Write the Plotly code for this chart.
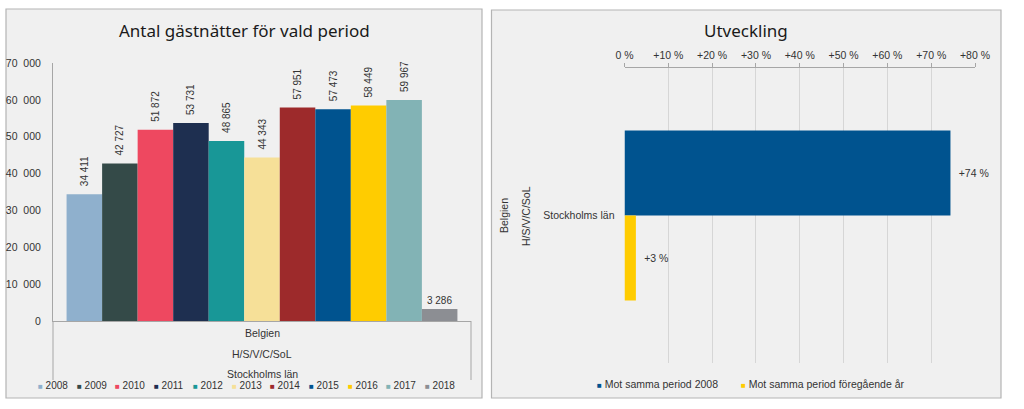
import plotly.graph_objects as go

# ---------------- data ----------------
years = ["2008", "2009", "2010", "2011", "2012", "2013", "2014", "2015", "2016", "2017", "2018"]
guest_nights = [34411, 42727, 51872, 53731, 48865, 44343, 57951, 57473, 58449, 59967, 3286]
year_colors = ["#8fb0cd", "#344a48", "#ee4860", "#1e2f50", "#189797", "#f6e098",
               "#9d2a2b", "#00538f", "#ffcc00", "#82b3b5", "#8c8e93"]
region = "Stockholms län"
region_levels = ["Belgien", "H/S/V/C/SoL", "Stockholms län"]
count_ticks = [0, 10000, 20000, 30000, 40000, 50000, 60000, 70000]
count_tick_labels = ["0", "10\u2007000", "20\u2007000", "30\u2007000", "40\u2007000",
                     "50\u2007000", "60\u2007000", "70\u2007000"]

dev_series = ["Mot samma period 2008", "Mot samma period föregående år"]
dev_values = [74.4, 2.6]
dev_colors = ["#00538f", "#ffcc00"]
pct_ticks = [0, 10, 20, 30, 40, 50, 60, 70, 80]
pct_tick_labels = ["0 %", "+10 %", "+20 %", "+30 %", "+40 %", "+50 %", "+60 %", "+70 %", "+80 %"]

# ---------------- helpers (pixel -> paper) ----------------
W, H = 1024, 409
def fx(px):
    return px / W
def fy(py):
    return 1 - py / H

TXT = "#333333"
AX = "#a6a6a6"
FONT = "Liberation Sans, Arial, sans-serif"
TFONT = "Noto Sans, sans-serif"
PAD = "\u2002"  # small lead-in so value labels sit a little off the bar end

fig = go.Figure()

# left chart: grouped bars, one per year
for i, (yr, v, c) in enumerate(zip(years, guest_nights, year_colors)):
    rotated = v >= 10000
    fig.add_trace(go.Bar(
        x=[region], y=[v], name=yr, marker=dict(color=c, line=dict(width=0)),
        texttemplate=(PAD if rotated else "") + "%{y:,}", textposition="outside",
        textangle=-90 if rotated else 0, constraintext="none",
        textfont=dict(size=10, color=TXT, family=FONT), cliponaxis=False,
        showlegend=False, xaxis="x", yaxis="y",
    ))

# right chart: horizontal bars
bw = 0.288
for i, (nm, v, c) in enumerate(zip(dev_series, dev_values, dev_colors)):
    fig.add_trace(go.Bar(
        y=[region], x=[v], name=nm, orientation="h",
        marker=dict(color=c, line=dict(width=0)),
        width=bw, offset=-bw + i * bw,
        texttemplate=PAD + "+%{x:.0f} %", textposition="outside", constraintext="none",
        textfont=dict(size=10.5, color=TXT, family=FONT), cliponaxis=False,
        showlegend=False, xaxis="x2", yaxis="y2",
    ))

shapes = [
    dict(type="rect", xref="paper", yref="paper", x0=fx(6), x1=fx(482), y0=fy(398), y1=fy(9),
         fillcolor="#f0f0f0", line=dict(color="#b4b4b4", width=1.2), layer="below"),
    dict(type="rect", xref="paper", yref="paper", x0=fx(491.5), x1=fx(1001), y0=fy(398), y1=fy(10),
         fillcolor="#f0f0f0", line=dict(color="#b4b4b4", width=1.2), layer="below"),
    dict(type="line", xref="paper", yref="paper", x0=fx(53), x1=fx(53), y0=fy(321), y1=fy(380),
         line=dict(color=AX, width=1)),
    dict(type="line", xref="paper", yref="paper", x0=fx(471), x1=fx(471), y0=fy(321), y1=fy(380),
         line=dict(color=AX, width=1)),
]

def ann(text, px, py, size, family=FONT, color=TXT, xanchor="center", angle=0):
    return dict(text=text, x=fx(px), y=fy(py), xref="paper", yref="paper",
                xanchor=xanchor, yanchor="middle", textangle=angle, showarrow=False,
                font=dict(family=family, size=size, color=color))

annotations = [
    ann("Antal gästnätter för vald period", 244, 30, 17, TFONT, "#1a1a1a"),
    ann("Utveckling", 746, 31, 17, TFONT, "#1a1a1a"),
]
# left multi-level category labels
for lvl, py in zip(region_levels, [333, 354, 374]):
    annotations.append(ann(lvl, 262, py, 10.5))
# right outer category labels (rotated)
for lvl, px in zip(region_levels[:2], [504, 526]):
    annotations.append(ann(lvl, px, 216, 10.5, angle=-90))
# left legend
for i, (yr, c) in enumerate(zip(years, year_colors)):
    annotations.append(ann(f"<span style='color:{c};font-size:8px'>■</span> {yr}",
                           36 + i * 38.7, 385, 10, xanchor="left"))
# right legend
for nm, c, px in zip(dev_series, dev_colors, [595, 739]):
    annotations.append(ann(f"<span style='color:{c};font-size:8px'>■</span> {nm}",
                           px, 384, 10.5, xanchor="left"))

fig.update_layout(
    width=W, height=H, autosize=False,
    margin=dict(l=0, r=0, t=0, b=0, pad=0, autoexpand=False),
    paper_bgcolor="white", plot_bgcolor="rgba(0,0,0,0)",
    barmode="group", bargap=0.065, bargroupgap=0,
    separators=", ",
    font=dict(family=FONT, size=10, color=TXT),
    showlegend=False,
    xaxis=dict(domain=[fx(53), fx(471)], showticklabels=False, ticks="",
               showline=True, linecolor=AX, linewidth=1, showgrid=False, zeroline=False,
               automargin=False),
    yaxis=dict(domain=[fy(321), fy(63)], range=[0, 70000], tickvals=count_ticks,
               ticktext=count_tick_labels, showline=True, linecolor=AX, linewidth=1,
               showgrid=False, zeroline=False, ticks="", ticklabelstandoff=9, automargin=False,
               tickfont=dict(size=10.5, color=TXT, family=FONT)),
    xaxis2=dict(domain=[fx(624.5), fx(975)], range=[0, 80], side="top", anchor="y2",
                tickvals=pct_ticks, ticktext=pct_tick_labels, automargin=False,
                showline=True, linecolor=AX, linewidth=1, ticks="outside", ticklen=4,
                tickcolor=AX, showgrid=True, gridcolor="#d6d6d6", gridwidth=1, zeroline=False,
                tickfont=dict(size=10.5, color=TXT, family=FONT)),
    yaxis2=dict(domain=[fy(363), fy(68)], anchor="x2", autorange="reversed", automargin=False,
                showline=False, showgrid=False, zeroline=False, ticks="", ticklabelstandoff=9,
                tickfont=dict(size=10.5, color=TXT, family=FONT)),
    shapes=shapes, annotations=annotations,
)

fig.write_html("out.html", config={"displayModeBar": False},
               post_script="document.body.style.margin='0';")
